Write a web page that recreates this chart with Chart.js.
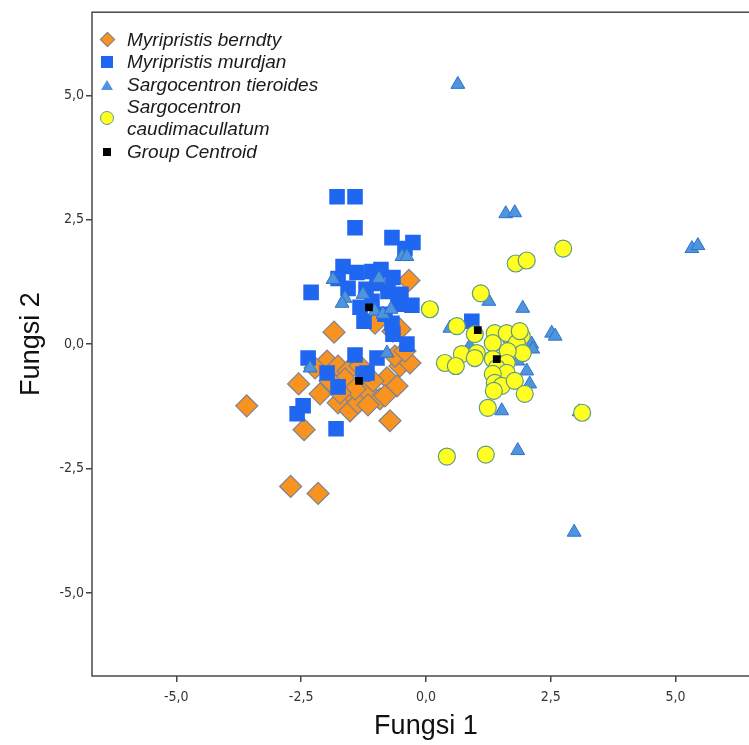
<!DOCTYPE html>
<html>
<head>
<meta charset="utf-8">
<script src="https://cdn.jsdelivr.net/npm/chart.js@4.4.0/dist/chart.umd.min.js"></script>
<style>
body{margin:0;overflow:hidden;background:#fff;}
#wrap{position:relative;width:749px;height:745px;overflow:hidden;}
canvas{display:block;}
#leyenda{position:absolute;left:0;top:0;font-family:"Liberation Sans",Arial,sans-serif;font-style:italic;font-size:19px;color:#1a1a1a;line-height:22px;}
.fila{position:absolute;left:127px;width:215px;}
.mk{position:absolute;box-sizing:border-box;}
</style>
</head>
<body>
<div id="wrap">
  <canvas id="grafica" width="772" height="745"></canvas>
  <div id="leyenda"></div>
</div>
<script>
// datos (Fungsi 1, Fungsi 2)

const seriesNames = ["Myripristis berndty", "Myripristis murdjan", "Sargocentron tieroides", "Sargocentron caudimacullatum", "Group Centroid"];
const xTicks = [-5, -2.5, 0, 2.5, 5];
const yTicks = [-5, -2.5, 0, 2.5, 5];

const berndty = [
  [-3.59,-1.24],[-2.71,-2.86],[-2.16,-3.00],[-2.44,-1.72],[-2.55,-0.80],[-2.12,-1.00],
  [-1.98,-0.34],[-1.76,-0.44],[-1.84,0.24],[-1.48,-1.08],[-1.76,-1.18],[-1.52,-1.34],
  [-1.36,-1.18],[-1.18,-0.94],[-0.92,-1.10],[-0.78,-0.68],[-0.58,-0.84],[-0.52,-0.44],
  [-0.32,-0.38],[-0.72,-1.54],[-1.56,-0.54],[-1.32,-0.44],[-1.06,-0.74],[-0.62,-0.24],
  [-0.34,1.28],[-0.66,0.26],[-0.52,0.30],[-1.02,0.42],[-1.62,-0.70],[-1.92,-0.74],
  [-1.42,-0.90],[-0.42,-0.14],[-0.82,-1.04],[-1.16,-1.22],[-2.22,-0.48],[-1.72,-0.98]
];

const murdjan = [
  [-1.78,2.96],[-1.42,2.96],[-1.42,2.34],[-0.68,2.14],[-0.26,2.04],[-0.42,1.92],
  [-2.30,1.04],[-1.66,1.56],[-1.76,1.32],[-1.38,1.44],[-1.56,1.12],[-1.20,1.10],
  [-0.90,1.50],[-0.66,1.34],[-0.76,1.06],[-0.50,1.00],[-0.28,0.78],[-1.08,0.86],
  [-1.32,0.74],[-1.24,0.46],[-0.82,0.60],[-0.56,0.80],[-0.68,0.42],[-0.98,1.22],
  [-1.08,1.46],[-2.36,-0.28],[-1.98,-0.58],[-1.76,-0.86],[-1.42,-0.22],[-1.18,-0.58],
  [-0.98,-0.28],[-0.66,0.20],[-0.38,0.00],[-2.46,-1.24],[-2.58,-1.40],[-1.80,-1.70],
  [0.92,0.46],[-1.26,-0.60]
];

const tieroides = [
  [0.64,5.22],[1.60,2.62],[1.78,2.64],[5.33,1.92],[5.45,1.98],[2.97,-3.78],
  [1.26,0.86],[1.94,0.72],[2.52,0.22],[2.59,0.16],[0.48,0.32],[2.12,0.00],
  [2.14,-0.10],[1.84,-0.34],[2.02,-0.54],[2.08,-0.80],[1.52,-1.34],[3.07,-1.36],
  [1.84,-2.14],[0.88,-0.04],[-1.86,1.30],[-1.62,0.92],[-1.68,0.82],[-1.26,1.00],
  [-0.94,1.32],[-1.02,0.66],[-0.86,0.60],[-0.70,0.70],[-0.48,1.76],[-0.38,1.76],
  [-0.78,-0.18],[-2.32,-0.48],[1.68,0.12],[1.38,-0.04]
];

const caudimacullatum = [
  [2.75,1.92],[1.80,1.62],[2.02,1.68],[1.10,1.02],[0.08,0.70],[0.62,0.36],
  [0.98,0.20],[1.38,0.22],[1.62,0.22],[1.92,0.16],[1.82,0.02],[1.94,-0.18],
  [1.34,0.02],[1.64,-0.14],[0.72,-0.20],[1.02,-0.18],[0.98,-0.28],[0.38,-0.38],
  [0.60,-0.44],[1.34,-0.30],[1.62,-0.38],[1.42,-0.48],[1.62,-0.58],[1.34,-0.60],
  [1.38,-0.78],[1.52,-0.84],[1.78,-0.74],[1.98,-1.00],[1.24,-1.28],[3.13,-1.38],
  [0.42,-2.26],[1.20,-2.22],[1.36,-0.94],[1.88,0.26]
];

const centroids = [[-1.34,-0.74],[-1.14,0.74],[1.04,0.28],[1.42,-0.30]];

// estilos de cada grupo
const estilos = [
  {shape: "rectRot", r: 11, fill: "#F7931E", line: "#7A8399", w: 1.2, order: 4},
  {shape: "rect", r: 11, fill: "#1F66F0", line: "#1F66F0", w: 0, order: 3},
  {shape: "triangle", r: 8, fill: "#4F94DE", line: "#2F72CC", w: 1, order: 2},
  {shape: "circle", r: 8.5, fill: "#FFFF22", line: "#5E9A86", w: 1.2, order: 1},
  {shape: "rect", r: 5.5, fill: "#000000", line: "#000000", w: 0, order: 0}
];

const grupos = [berndty, murdjan, tieroides, caudimacullatum, centroids];

const datasets = grupos.map((g, i) => ({
  label: seriesNames[i],
  data: g.map(p => ({x: p[0], y: p[1]})),
  pointStyle: estilos[i].shape,
  pointRadius: estilos[i].r,
  backgroundColor: estilos[i].fill,
  borderColor: estilos[i].line,
  borderWidth: estilos[i].w,
  order: estilos[i].order
}));

// marco del area de la grafica
const marco = {
  id: "marco",
  afterDraw(chart) {
    const a = chart.chartArea;
    const c = chart.ctx;
    c.save();
    c.strokeStyle = "#4a4a4a";
    c.lineWidth = 1.5;
    c.strokeRect(a.left, a.top, a.right - a.left, a.bottom - a.top);
    c.restore();
  }
};

const coma = v => v.toFixed(1).replace(".", ",");
const tickFont = {family: "'DejaVu Sans Condensed', 'Liberation Sans Narrow', sans-serif", size: 14};
const titleFont = {family: "'Liberation Sans', Arial, sans-serif", size: 27};

const grafica = document.querySelector("#grafica").getContext("2d");

new Chart(grafica, {
  type: "scatter",
  data: {datasets: datasets},
  options: {
    responsive: false,
    animation: false,
    layout: {padding: {top: 9, right: 4, left: 0, bottom: 0}},
    plugins: {legend: {display: false}, tooltip: {enabled: false}},
    scales: {
      x: {
        min: -6.69, max: 6.69,
        afterBuildTicks: s => { s.ticks = xTicks.map(v => ({value: v})); },
        afterFit: s => { s.height = 69; },
        grid: {drawOnChartArea: false, drawTicks: true, tickLength: 6, color: "#444", lineWidth: 1.5},
        border: {display: false},
        ticks: {callback: coma, font: tickFont, color: "#333", padding: 7, maxRotation: 0},
        title: {display: true, text: "Fungsi 1", font: titleFont, color: "#111", padding: {top: 0, bottom: 2}}
      },
      y: {
        min: -6.67, max: 6.67,
        afterBuildTicks: s => { s.ticks = yTicks.map(v => ({value: v})); },
        afterFit: s => { s.width = 92; },
        grid: {drawOnChartArea: false, drawTicks: true, tickLength: 6, color: "#444", lineWidth: 1.5},
        border: {display: false},
        ticks: {callback: coma, font: tickFont, color: "#333", padding: 2},
        title: {display: true, text: "Fungsi 2", font: titleFont, color: "#111", padding: {top: 15, bottom: 0}}
      }
    }
  },
  plugins: [marco]
});

// leyenda dentro del area
const marcas = [
  "left:102px;width:11px;height:11px;background:#F7931E;border:1px solid #7A8399;transform:rotate(45deg);",
  "left:101px;width:12px;height:12px;background:#1F66F0;",
  "left:101px;width:0;height:0;border-left:6px solid transparent;border-right:6px solid transparent;border-bottom:10px solid #4F94DE;",
  "left:100px;width:14px;height:14px;border-radius:50%;background:#FFFF22;border:1px solid #5E9A86;",
  "left:103px;width:8px;height:8px;background:#000;"
];
const filasTop = [29, 51, 74, 96, 141];
const marcasTop = [34, 56, 80, 111, 148];
const leyenda = document.querySelector("#leyenda");
let html = "";
for (let i = 0; i < seriesNames.length; i++) {
  html += '<div class="mk" style="top:' + marcasTop[i] + 'px;' + marcas[i] + '"></div>';
  html += '<div class="fila" style="top:' + filasTop[i] + 'px;">' + seriesNames[i] + '</div>';
}
leyenda.innerHTML = html;
</script>
</body>
</html>
